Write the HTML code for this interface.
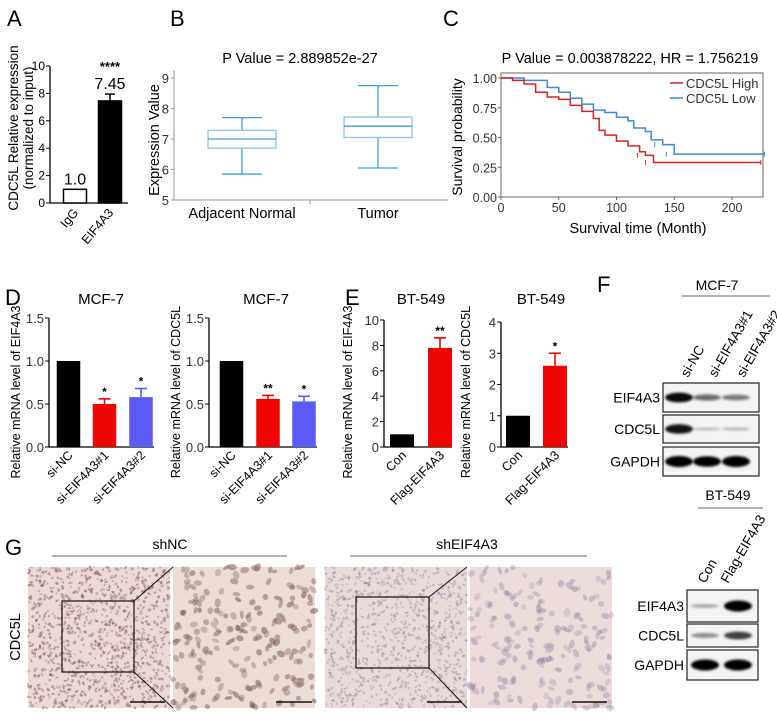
<!DOCTYPE html>
<html><head><meta charset="utf-8"><style>
body{margin:0;background:#fff}
svg{display:block;font-family:"Liberation Sans",Arial,sans-serif}
</style></head><body>
<svg id="fig" width="777" height="719" viewBox="0 0 777 719">
<defs>
<filter id="blur1" x="-20%" y="-50%" width="140%" height="200%"><feGaussianBlur stdDeviation="1.2"/></filter>
</defs>
<g id="g-a"></g>
<g id="g-b"></g>
<g id="g-c"></g>
<g id="g-d"></g>
<g id="g-e"></g>
<g id="g-f"></g>
<g id="g-g"></g>
</svg>
<script>
// ---- data ----
const aCats=["IgG","EIF4A3"];
const aVals=[1.0,7.45];
const aErr=[0,0.5];
const aLabels=["1.0","7.45"];
const aTicks=[0,2,4,6,8,10];

const bCats=["Adjacent Normal","Tumor"];
const bMin=[5.85,6.05];
const bQ1=[6.7,7.05];
const bMed=[7.0,7.42];
const bQ3=[7.28,7.72];
const bMax=[7.7,8.75];
const bTicks=[5,6,7,8,9];

const kmHighT=[0,10,20,30,40,50,60,70,80,85,90,100,110,120,125,132,225];
const kmHighS=[1,0.98,0.95,0.88,0.84,0.82,0.77,0.72,0.66,0.56,0.52,0.47,0.43,0.38,0.35,0.29,0.29];
const kmLowT=[0,20,40,50,60,70,80,90,100,110,115,125,130,140,150,228];
const kmLowS=[1,0.98,0.92,0.88,0.83,0.78,0.73,0.71,0.67,0.64,0.58,0.55,0.48,0.44,0.36,0.36];
const kmYTicks=["0.00","0.25","0.50","0.75","1.00"];
const kmXTicks=[0,50,100,150,200];

const dCats=["si-NC","si-EIF4A3#1","si-EIF4A3#2"];
const d1Vals=[1.0,0.50,0.58];
const d1Err=[0,0.06,0.10];
const d1Sig=["","*","*"];
const d2Vals=[1.0,0.56,0.53];
const d2Err=[0,0.04,0.06];
const d2Sig=["","**","*"];
const dTicks=["0.0","0.5","1.0","1.5"];

const eCats=["Con","Flag-EIF4A3"];
const e1Vals=[1.0,7.8];
const e1Err=[0,0.8];
const e1Sig=["","**"];
const e1Ticks=[0,2,4,6,8,10];
const e2Vals=[1.0,2.6];
const e2Err=[0,0.4];
const e2Sig=["","*"];
const e2Ticks=[0,1,2,3,4];

const NS="http://www.w3.org/2000/svg";
function el(parent,tag,attrs,text){const e=document.createElementNS(NS,tag);for(const k in attrs)e.setAttribute(k,attrs[k]);if(text!==undefined)e.textContent=text;parent.appendChild(e);return e;}
function txt(p,x,y,s,size,anchor,extra){const t=el(p,"text",Object.assign({x:x,y:y,"font-size":size,"text-anchor":anchor||"middle",fill:"#000"},extra||{}),s);return t;}

// panel letters
const letters=[["A",7,26],["B",170,26],["C",443,26],["D",5,305],["E",345,305],["F",597,292],["G",5,555]];
letters.forEach(l=>{const t=txt(document.getElementById("fig"),l[1],l[2],l[0],22,"start");

});

// ---- Panel A ----
(function(){
const g=document.getElementById("g-a");
const x0=50,yB=203,yT=66,max=10;
const y=v=>yB-(v/max)*(yB-yT);
const ax=el(g,"path",{d:`M${x0},${yT} V${yB} H128`,stroke:"#000","stroke-width":1.3,fill:"none"});

aTicks.forEach(v=>{el(g,"line",{x1:x0-4,x2:x0,y1:y(v),y2:y(v),stroke:"#000"});
const t=txt(g,x0-5,y(v)+4,String(v),12,"end");});
const xs=[75,110];
aCats.forEach((c,i)=>{
const b=el(g,"rect",{x:xs[i]-11.5,y:y(aVals[i]),width:23,height:yB-y(aVals[i]),fill:i?"#000":"#fff",stroke:"#000","stroke-width":1.5});

if(aErr[i]){el(g,"line",{x1:xs[i],x2:xs[i],y1:y(aVals[i]),y2:y(aVals[i]+aErr[i]),stroke:"#000","stroke-width":1.5});
el(g,"line",{x1:xs[i]-5,x2:xs[i]+5,y1:y(aVals[i]+aErr[i]),y2:y(aVals[i]+aErr[i]),stroke:"#000","stroke-width":1.5});}
const lt=txt(g,xs[i],y(aVals[i]+aErr[i])-5,aLabels[i],16);
const xl=txt(g,xs[i]+4,yB+10,c,12.5,"end",{transform:`rotate(-50 ${xs[i]+4} ${yB+10})`});
});
const st=txt(g,110,71,"****",13,"middle",{"font-weight":"bold"});
const t1=txt(g,18,128,"CDC5L Relative expression",13.5,"middle",{transform:"rotate(-90 18 128)"});
const t2=txt(g,33,128,"(normalized to input)",13.5,"middle",{transform:"rotate(-90 33 128)"});
})();

// ---- Panel B ----
(function(){
const g=document.getElementById("g-b");
const x0=174,x1=448,yB=200,yT=78;
const y=v=>yB-(v-5)/4*(yB-yT);
const ax=el(g,"path",{d:`M${x0},${yT-8} V${yB} H${x1}`,stroke:"#999","stroke-width":1,fill:"none"});

el(g,"line",{x1:310,x2:310,y1:yB,y2:yB+4,stroke:"#999"});
bTicks.forEach(v=>{el(g,"line",{x1:x0-3,x2:x0,y1:y(v),y2:y(v),stroke:"#999"});
const t=txt(g,x0-5,y(v)+5,String(v),13,"end",{fill:"#333"});});
const cx=[242,378];
bCats.forEach((c,i)=>{
const gg=el(g,"g",{stroke:"#3aa0d8","stroke-width":1.3,fill:"none"});

el(gg,"line",{x1:cx[i],x2:cx[i],y1:y(bMax[i]),y2:y(bQ3[i])});
el(gg,"line",{x1:cx[i],x2:cx[i],y1:y(bQ1[i]),y2:y(bMin[i])});
el(gg,"line",{x1:cx[i]-20,x2:cx[i]+20,y1:y(bMax[i]),y2:y(bMax[i])});
el(gg,"line",{x1:cx[i]-20,x2:cx[i]+20,y1:y(bMin[i]),y2:y(bMin[i])});
el(gg,"rect",{x:cx[i]-34,y:y(bQ3[i]),width:68,height:y(bQ1[i])-y(bQ3[i]),stroke:"#8cc4e8"});
el(gg,"line",{x1:cx[i]-34,x2:cx[i]+34,y1:y(bMed[i]),y2:y(bMed[i])});
const t=txt(g,cx[i],218,c,14.5);
});
const t=txt(g,300,63,"P Value = 2.889852e-27",14.5);
const yt=txt(g,159,140,"Expression Value",14.5,"middle",{transform:"rotate(-90 159 140)"});
})();

// ---- Panel C ----
(function(){
const g=document.getElementById("g-c");
const L=501,R=763,T=73,B=197;
const x=t=>L+t*(732-L)/200;
const y=s=>B-s*(B-78);
const fr=el(g,"rect",{x:L,y:T,width:R-L,height:B-T,fill:"none",stroke:"#666","stroke-width":1});

kmYTicks.forEach((s,i)=>{const v=parseFloat(s);el(g,"line",{x1:L-3,x2:L,y1:y(v),y2:y(v),stroke:"#666"});
const t=txt(g,L-4,y(v)+5,s,12.5,"end",{fill:"#333"});});
kmXTicks.forEach(v=>{el(g,"line",{x1:x(v),x2:x(v),y1:B,y2:B+3,stroke:"#666"});
const t=txt(g,x(v),B+15,String(v),12.5,"middle",{fill:"#333"});});
function step(T_,S_,col,name){let d=`M${x(T_[0])},${y(S_[0])}`;for(let i=1;i<T_.length;i++){d+=` H${x(T_[i])} V${y(S_[i])}`;}
const p=el(g,"path",{d:d,stroke:col,"stroke-width":1.5,fill:"none"});
for(let i=Math.max(1,T_.length-3);i<T_.length;i++){el(g,"line",{x1:x(T_[i])-(i==T_.length-1?0:8),x2:x(T_[i])-(i==T_.length-1?0:8),y1:y(S_[i])-2.5,y2:y(S_[i])+2.5,stroke:col});}}
step(kmLowT,kmLowS,"#3a8ad6","c-line-low");
step(kmHighT,kmHighS,"#dd2020","c-line-high");
const l1=el(g,"line",{x1:670,x2:683,y1:83,y2:83,stroke:"#dd2020","stroke-width":1.5});
const t1=txt(g,686,88,"CDC5L High",13,"start",{fill:"#333"});
const l2=el(g,"line",{x1:670,x2:683,y1:98,y2:98,stroke:"#3a8ad6","stroke-width":1.5});
const t2=txt(g,686,103,"CDC5L Low",13,"start",{fill:"#333"});
const tt=txt(g,630,63,"P Value = 0.003878222, HR = 1.756219",14.5);
const xt=txt(g,638,233,"Survival time (Month)",14.5);
const yt=txt(g,462,137,"Survival probability",14,"middle",{transform:"rotate(-90 462 137)"});
})();

// ---- bar chart helper for D/E ----
function barChart(g,o){
const y=v=>o.yB-(v/o.max)*(o.yB-o.yT);
const ax=el(g,"path",{d:`M${o.x0},${o.yT} V${o.yB} H${o.xEnd}`,stroke:"#000","stroke-width":1.3,fill:"none"});

o.ticks.forEach(s=>{const v=parseFloat(s);el(g,"line",{x1:o.x0-4,x2:o.x0,y1:y(v),y2:y(v),stroke:"#000"});
const t=txt(g,o.x0-5,y(v)+5,String(s),13,"end",{fill:"#333"});});
o.vals.forEach((v,i)=>{const cx=o.cx[i];
const b=el(g,"rect",{x:cx-o.w/2,y:y(v),width:o.w,height:o.yB-y(v),fill:o.colors[i]});

if(o.err[i]){const ye=y(v+o.err[i]);el(g,"line",{x1:cx,x2:cx,y1:y(v),y2:ye,stroke:o.colors[i],"stroke-width":1.6});
el(g,"line",{x1:cx-6,x2:cx+6,y1:ye,y2:ye,stroke:o.colors[i],"stroke-width":1.6});}
if(o.sig[i]){const s=txt(g,cx,y(v+o.err[i])-3,o.sig[i],12,"middle",{"font-weight":"bold"});}
const lx=cx+5,ly=o.yB+9;
const xl=txt(g,lx,ly,o.cats[i],12.5,"end",{transform:`rotate(-45 ${lx} ${ly})`});
});
const tt=txt(g,o.titleX,304,o.title,15);
const yt=txt(g,o.ytX,392,o.ytitle,12.5,"middle",{transform:`rotate(-90 ${o.ytX} 392)`});
}
const RED="#f00505",BLUE="#5a5af5";
barChart(document.getElementById("g-d"),{id:"d1",x0:49,xEnd:154,yB:447,yT:318,max:1.5,ticks:dTicks,vals:d1Vals,err:d1Err,sig:d1Sig,cats:dCats,cx:[68.5,104.5,141],w:23.5,colors:["#000",RED,BLUE],title:"MCF-7",titleX:101,ytX:20,ytitle:"Relative mRNA level of EIF4A3"});
barChart(document.getElementById("g-d"),{id:"d2",x0:209,xEnd:317,yB:447,yT:318,max:1.5,ticks:dTicks,vals:d2Vals,err:d2Err,sig:d2Sig,cats:dCats,cx:[231.5,268,304],w:23.5,colors:["#000",RED,BLUE],title:"MCF-7",titleX:266,ytX:180,ytitle:"Relative mRNA level of CDC5L"});
barChart(document.getElementById("g-e"),{id:"e1",x0:384,xEnd:452,yB:447,yT:320,max:10,ticks:e1Ticks,vals:e1Vals,err:e1Err,sig:e1Sig,cats:eCats,cx:[402,440],w:24,colors:["#000",RED],title:"BT-549",titleX:421,ytX:352,ytitle:"Relative mRNA level of EIF4A3"});
barChart(document.getElementById("g-e"),{id:"e2",x0:501,xEnd:568,yB:447,yT:322,max:4,ticks:e2Ticks,vals:e2Vals,err:e2Err,sig:e2Sig,cats:eCats,cx:[518,555],w:24,colors:["#000",RED],title:"BT-549",titleX:541,ytX:470,ytitle:"Relative mRNA level of CDC5L"});

// ---- western blots ----
function blot(g,o){
const h=txt(g,o.hx,o.hy,o.header,14);
el(g,"line",{x1:o.lx1,x2:o.lx2,y1:o.ly,y2:o.ly,stroke:"#888","stroke-width":1.2});
o.lanes.forEach((ln,i)=>{const t=txt(g,o.laneX[i],o.laneY,ln,13.5,"start",{transform:`rotate(-60 ${o.laneX[i]} ${o.laneY})`});});
o.rows.forEach((r,ri)=>{const [y1,y2]=r.y;
const bx=el(g,"rect",{x:o.x1,y:y1,width:o.x2-o.x1,height:y2-y1,fill:"#f4f4f4",stroke:"#222","stroke-width":1.2});

const lb=txt(g,o.x1-3,(y1+y2)/2+5,r.name,14,"end");
r.bands.forEach((b,i)=>{if(b<=0)return;const cx=o.bandX[i];
el(g,"ellipse",{cx:cx,cy:(y1+y2)/2,rx:o.bw,ry:1.5+b*4,fill:"#000","fill-opacity":Math.min(1,0.2+b*0.9),filter:"url(#blur1)"});});
});}
blot(document.getElementById("g-f"),{id:"f-mcf7",header:"MCF-7",hx:717,hy:290,lx1:682,lx2:770,ly:296,
lanes:["si-NC","si-EIF4A3#1","si-EIF4A3#2"],laneX:[688,716,744],laneY:378,x1:663,x2:759,bandX:[679,707,736],bw:14,
rows:[{name:"EIF4A3",y:[383,412],bands:[0.85,0.4,0.35]},{name:"CDC5L",y:[415,443],bands:[0.8,0.02,0.05]},{name:"GAPDH",y:[447,476],bands:[1,0.95,1]}]});
blot(document.getElementById("g-f"),{id:"f-bt549",header:"BT-549",hx:728,hy:500,lx1:698,lx2:763,ly:508,
lanes:["Con","Flag-EIF4A3"],laneX:[705,728],laneY:584,x1:687,x2:758,bandX:[705,738],bw:14,
rows:[{name:"EIF4A3",y:[590,622],bands:[0.12,1]},{name:"CDC5L",y:[624,647],bands:[0.25,0.6]},{name:"GAPDH",y:[650,680],bands:[1,1]}]});

// ---- Panel G (IHC texture, decorative) ----
(function(){
const g=document.getElementById("g-g");
let seed=7;const rnd=()=>{seed=(seed*16807)%2147483647;return seed/2147483647;};
function tissue(x,y,w,h,n,r,col,bg,op,name){
const gg=el(g,"g",{});
el(gg,"rect",{x:x,y:y,width:w,height:h,fill:bg});
for(let i=0;i<n;i++){const cx=x+rnd()*w,cy=y+rnd()*h;
el(gg,"ellipse",{cx:cx,cy:cy,rx:r*(0.7+rnd()*0.6),ry:r*(0.5+rnd()*0.4),fill:col,"fill-opacity":op*(0.5+rnd()*0.5),transform:`rotate(${rnd()*180} ${cx} ${cy})`});}
}
const t1=txt(g,170,549,"shNC",14);
el(g,"line",{x1:52,x2:287,y1:556,y2:556,stroke:"#888","stroke-width":1.2});
const t2=txt(g,467,549,"shEIF4A3",14);
el(g,"line",{x1:350,x2:587,y1:556,y2:556,stroke:"#888","stroke-width":1.2});
tissue(28,567,142,141,1100,1.5,"#7a5658","#ead9d5",0.55,"ihc-shnc-low-mag");
tissue(173,567,142,141,200,3.6,"#80605e","#ecdcd6",0.6,"ihc-shnc-high-mag");
tissue(325,567,142,141,1000,1.5,"#85779a","#e9dad8",0.45,"ihc-sheif4a3-low-mag");
tissue(470,567,142,141,180,3.6,"#8e82a4","#ebdcda",0.45,"ihc-sheif4a3-high-mag");
[[62,601,72,71,134,173],[356,597,73,71,429,467]].forEach(b=>{
el(g,"rect",{x:b[0],y:b[1],width:b[2],height:b[3],fill:"none",stroke:"#111","stroke-width":1.2});
el(g,"line",{x1:b[4],y1:b[1],x2:b[5],y2:567,stroke:"#111","stroke-width":1});
el(g,"line",{x1:b[4],y1:b[1]+b[3],x2:b[5],y2:708,stroke:"#111","stroke-width":1});});
[[130,165],[276,312],[427,462],[572,607]].forEach(s=>el(g,"line",{x1:s[0],x2:s[1],y1:702,y2:702,stroke:"#111","stroke-width":1.5}));
const yl=txt(g,20,637,"CDC5L",14.5,"middle",{transform:"rotate(-90 20 637)"});
})();
</script>
</body></html>
